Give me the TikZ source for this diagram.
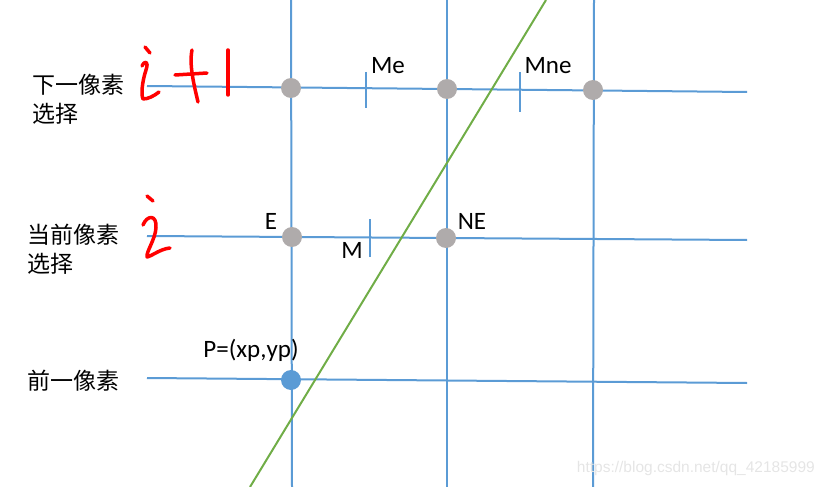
\documentclass[tikz,border=0pt]{standalone}
\usepackage{fontspec}
\setmainfont{Carlito}
\newfontfamily\cjk{Noto Sans CJK SC}
\newfontfamily\wmfont{Liberation Sans}
\usepackage{tikz}
\definecolor{gridblue}{RGB}{91,155,213}
\definecolor{slopegreen}{RGB}{112,173,71}
\definecolor{pixgray}{RGB}{175,171,171}
\tikzset{
GRID/.style ={draw=gridblue,line cap=butt,line width=2},
SLOPE/.style ={draw=slopegreen,line cap=butt,line width=2},
TICK/.style ={draw=gridblue,line width=1.8},
PIXEL/.style={circle,fill=pixgray,draw=none,inner sep=0,minimum size=20},
HAND/.style ={draw=red,line cap=round,line join=round,line width=3.5},
LABEL/.style={font=\fontsize{25}{29}\selectfont,inner sep=0},
ROWTEXT/.style={font=\cjk\fontsize{23}{29}\selectfont,align=left,anchor=west,inner sep=0},
}
\begin{document}
\begin{tikzpicture}[x=1pt,y=-1pt]
	\useasboundingbox (0,0) rectangle (825,487);
	% grid
	\path[GRID] (147,86) -- (747,92);
	\path[GRID] (147,236) -- (747,240);
	\path[GRID] (147,378) -- (747,383);
	\path[GRID] (291,0) -- (292,487);
	\path[GRID] (447,0) -- (447,487);
	\path[GRID] (594,0) -- (593,487);
	\path[SLOPE] (250,487) -- (546,0);
	% midpoints
	\path[TICK] (366,72) -- (366,108);
	\path[TICK] (520,72) -- (520,112);
	\path[TICK] (370,219) -- (370,257);
	% pixels
	\node[PIXEL] (e2) at (291,88) {};
	\node[PIXEL] (ne2) at (447,89) {};
	\node[PIXEL] (nne2) at (593,90) {};
	\node[PIXEL] (e) at (292,237) {};
	\node[PIXEL] (ne) at (446,238) {};
	\node[PIXEL,fill=gridblue] (p) at (291,380) {};
	\node[LABEL] (me) at (388,66) {Me};
	\node[LABEL] (mne) at (548,66) {Mne};
	\node[LABEL] (elab) at (271,221) {E};
	\node[LABEL] (nelab) at (472,221) {NE};
	\node[LABEL] (mlab) at (352,250) {M};
	\node[LABEL] (plab) at (251,350) {P=(xp,yp)};
	% rows
	\node[ROWTEXT] (next) at (32,99) {下一像素\\选择};
	\node[ROWTEXT] (cur) at (27,249) {当前像素\\选择};
	\node[ROWTEXT] (prev) at (27,381) {前一像素};
	% handwriting
	\path[HAND] (145,47) -- (150,53);
	\path[HAND] (142,66) .. controls (145,60) and (149,61) .. (146,70) .. controls (142,82) and (141,95) .. (143,99) .. controls (148,99) and (154,96) .. (159,92);
	\path[HAND] (175,75) -- (207,73);
	\path[HAND] (192,50) .. controls (189,65) and (194,85) .. (198,102);
	\path[HAND] (228,50) -- (228,95);
	\path[HAND] (147,196) -- (153,201);
	\path[HAND] (143,225) .. controls (147,215) and (157,214) .. (156,228) .. controls (155,240) and (146,252) .. (147,257) .. controls (152,256) and (160,249) .. (170,248);
	\node[font=\wmfont\fontsize{15.5}{18}\selectfont,text=black!10,anchor=east,inner sep=0] (mark) at (815,468) {https://blog.csdn.net/qq\_42185999};
\end{tikzpicture}
\end{document}
